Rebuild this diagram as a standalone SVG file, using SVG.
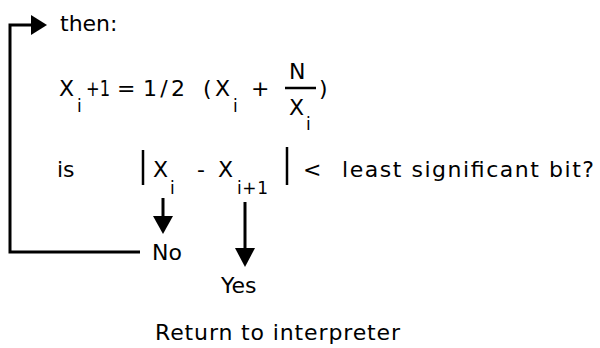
<svg xmlns="http://www.w3.org/2000/svg" width="600" height="348" viewBox="0 0 600 348">
<style>
text{font-family:"DejaVu Sans",Lato,sans-serif;font-size:22px;fill:#000}
.sub{font-size:17px}
.ln{stroke:#000;stroke-width:3;fill:none}
.bar{stroke:#000;stroke-width:2.5}
.hd{fill:#000}
</style>
<rect width="600" height="348" fill="#fff"/>
<g id="connectors">
<polyline class="ln" points="140,252 10,252 10,25 33,25"/>
<polygon class="hd" points="31,15 47,25 31,35"/>
<line class="ln" x1="163" y1="198" x2="163" y2="218"/>
<polygon class="hd" points="153,216 173,216 163,234"/>
<line class="ln" x1="245" y1="202" x2="245" y2="250"/>
<polygon class="hd" points="235,248 255,248 245,267"/>
</g>
<g id="then"><text x="60" y="31">then:</text></g>
<g id="formula">
<text x="59" y="96">X</text>
<text class="sub" x="77" y="112">i</text>
<text x="86" y="96" textLength="24" lengthAdjust="spacingAndGlyphs">+1</text>
<text x="117" y="96">=</text>
<text x="143" y="96" textLength="42" lengthAdjust="spacing">1/2</text>
<text x="203" y="96">(</text>
<text x="215" y="96">X</text>
<text class="sub" x="233" y="112">i</text>
<text x="251" y="96">+</text>
<text x="289" y="79">N</text>
<line class="bar" x1="285" y1="88" x2="316" y2="88"/>
<text x="289" y="115">X</text>
<text class="sub" x="306" y="130">i</text>
<text x="319" y="96">)</text>
</g>
<g id="test">
<text x="57" y="177">is</text>
<line class="bar" x1="143" y1="150" x2="143" y2="185"/>
<text x="153" y="177">X</text>
<text class="sub" x="170" y="194">i</text>
<text x="197" y="177">-</text>
<text x="218" y="177">X</text>
<text class="sub" x="237" y="194" textLength="31" lengthAdjust="spacing">i+1</text>
<line class="bar" x1="287" y1="147" x2="287" y2="185"/>
<text x="303" y="177">&lt;</text>
<text x="342" y="177" textLength="252" lengthAdjust="spacing">least significant bit?</text>
</g>
<g id="no"><text x="152" y="260">No</text></g>
<g id="yes"><text x="221" y="293">Yes</text></g>
<g id="return"><text x="155" y="340" textLength="245" lengthAdjust="spacing">Return to interpreter</text></g>
</svg>
